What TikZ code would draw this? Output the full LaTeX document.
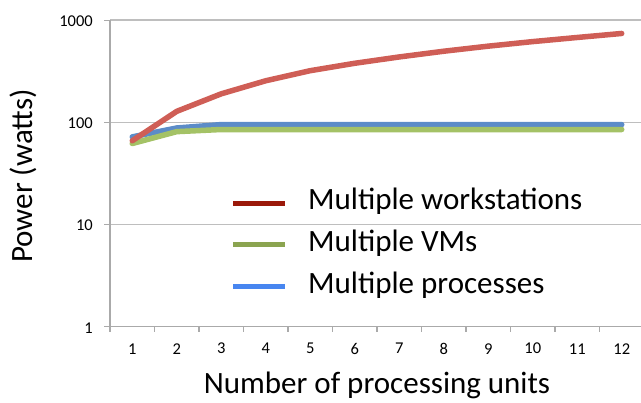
\documentclass[tikz,border=0pt]{standalone}
\usepackage{fontspec}
\setmainfont{Carlito}
\definecolor{gridgray}{RGB}{190,190,190}
\definecolor{axisgray}{RGB}{170,170,170}
\definecolor{wsred}{RGB}{207,94,86}
\definecolor{vmgreen}{RGB}{164,194,102}
\definecolor{prblue}{RGB}{92,140,200}
\definecolor{legred}{RGB}{155,25,10}
\definecolor{leggreen}{RGB}{139,164,80}
\definecolor{legblue}{RGB}{72,134,240}
\tikzset{
  gridline/.style={draw=gridgray, line width=1.4pt},
  axisline/.style={draw=axisgray, line width=1.4pt},
  tickmark/.style={draw=axisgray, line width=1.2pt},
  series/.style={line width=5.5pt, line cap=round, line join=round},
  legline/.style={line width=5pt},
  ticklabel/.style={font=\fontsize{16.5}{18}\selectfont, inner sep=0pt},
  legtext/.style={font=\fontsize{31}{34}\selectfont, inner sep=0pt, anchor=base west},
  axtitle/.style={font=\fontsize{31}{34}\selectfont, inner sep=0pt}
}
\newcommand{\YP}[1]{326.7-102.2*log10(#1)}
\newcommand{\XP}[1]{132.25+44.5*(#1-1)}
\begin{document}
\begin{tikzpicture}[x=1pt,y=-1pt]
\useasboundingbox (0,0) rectangle (641,403);
% gridlines
\foreach \v in {1000,100,10} {
  \draw[gridline] (110,{\YP{\v}}) -- (641,{\YP{\v}});
}
% axes
\draw[axisline] (110,20) -- (110,326.7);
\draw[axisline] (110,326.7) -- (641,326.7);
% y ticks and labels
\foreach \v/\lab in {1000/1000,100/100,10/10,1/1} {
  \draw[tickmark] (104,{\YP{\v}}) -- (110,{\YP{\v}});
  \node[ticklabel, anchor=east] (yl\lab) at (93,{\YP{\v}+1}) {\lab};
}
% x ticks and labels
\foreach \k in {0,...,11} {
  \draw[tickmark] ({110+44.5*\k},326.7) -- ({110+44.5*\k},332.5);
}
\foreach \n in {1,...,12} {
  \node[ticklabel] (xl\n) at ({\XP{\n}},348.7) {\n};
}
% series
\draw[series, prblue] ({\XP{1}},{\YP{72}}) -- ({\XP{2}},{\YP{88}})
  \foreach \n in {3,...,12} { -- ({\XP{\n}},{\YP{95}}) };
\draw[series, vmgreen] ({\XP{1}},{\YP{62}}) -- ({\XP{2}},{\YP{81}})
  \foreach \n in {3,...,12} { -- ({\XP{\n}},{\YP{85}}) };
\draw[series, wsred] ({\XP{1}},{\YP{66}})
  \foreach \n/\v in {2/128,3/190,4/255,5/320,6/378,7/436,8/496,9/556,10/616,11/676,12/740} { -- ({\XP{\n}},{\YP{\v}}) };
% legend
\coordinate (la1) at (233,204);   \coordinate (lb1) at (285,204);
\coordinate (la2) at (233,245);   \coordinate (lb2) at (285,245);
\coordinate (la3) at (233,286.5); \coordinate (lb3) at (285,286.5);
\draw[legline, legred] (la1) -- (lb1);
\draw[legline, leggreen] (la2) -- (lb2);
\draw[legline, legblue] (la3) -- (lb3);
\node[legtext] (lt1) at (308,209.3) {Multiple workstations};
\node[legtext] (lt2) at (308,251.7) {Multiple VMs};
\node[legtext] (lt3) at (308,293.3) {Multiple processes};
% axis titles
\node[axtitle, rotate=90] (ytitle) at (23,176) {Power (watts)};
\node[axtitle, anchor=base] (xtitle) at (377,394) {Number of processing units};
\end{tikzpicture}
\end{document}
